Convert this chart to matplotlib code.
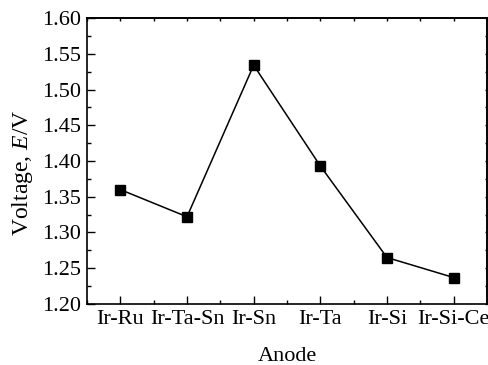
import matplotlib
matplotlib.use("Agg")
import matplotlib.pyplot as plt
from matplotlib.ticker import MultipleLocator

anodes = ["Ir-Ru", "Ir-Ta-Sn", "Ir-Sn", "Ir-Ta", "Ir-Si", "Ir-Si-Ce"]
voltage = [1.360, 1.322, 1.534, 1.393, 1.265, 1.237]
y_ticks = [1.20, 1.25, 1.30, 1.35, 1.40, 1.45, 1.50, 1.55, 1.60]

plt.rcParams["font.family"] = ["Liberation Serif", "DejaVu Serif"]
plt.rcParams["mathtext.fontset"] = "custom"
plt.rcParams["mathtext.it"] = "Liberation Serif:italic"
plt.rcParams["mathtext.rm"] = "Liberation Serif"

FS = 16

fig = plt.figure(figsize=(4.89, 3.65), dpi=100)
ax = fig.add_axes([87 / 489, 1 - 304 / 365, 400 / 489, 286 / 365])

x = list(range(len(anodes)))
ax.plot(x, voltage, color="black", lw=1.1, marker="s", ms=7, mfc="black", mec="black")

ax.set_xlim(-0.5, 5.5)
ax.set_ylim(1.20, 1.60)
ax.set_xticks(x)
ax.set_xticklabels(anodes)
ax.set_yticks(y_ticks)
ax.set_yticklabels([f"{v:.2f}" for v in y_ticks])
ax.xaxis.set_minor_locator(MultipleLocator(0.5))
ax.yaxis.set_minor_locator(MultipleLocator(0.025))

for side in ax.spines.values():
    side.set_linewidth(1.2)

ax.tick_params(which="both", direction="in", width=1.0, labelsize=FS, colors="black")
ax.tick_params(which="major", length=5.5, pad=4)
ax.tick_params(which="minor", length=3)

# short mirrored ticks on the top and right edges
top = ax.secondary_xaxis("top")
top.set_xticks([v / 2 for v in range(-1, 12)])
top.tick_params(direction="in", length=1.8, width=1.0, labelsize=0, labeltop=False)
right = ax.secondary_yaxis("right")
right.set_yticks([1.20 + 0.025 * i for i in range(17)])
right.tick_params(direction="in", length=1.8, width=1.0, labelsize=0, labelright=False)
top.spines["top"].set_linewidth(1.2)
right.spines["right"].set_linewidth(1.2)

ax.set_xlabel("Anode", fontsize=FS, labelpad=13.5)
ax.set_ylabel("Voltage, $E$/V", fontsize=17)
ax.yaxis.set_label_coords(-0.13, 0.46)

fig.savefig("out.png", dpi=100)
